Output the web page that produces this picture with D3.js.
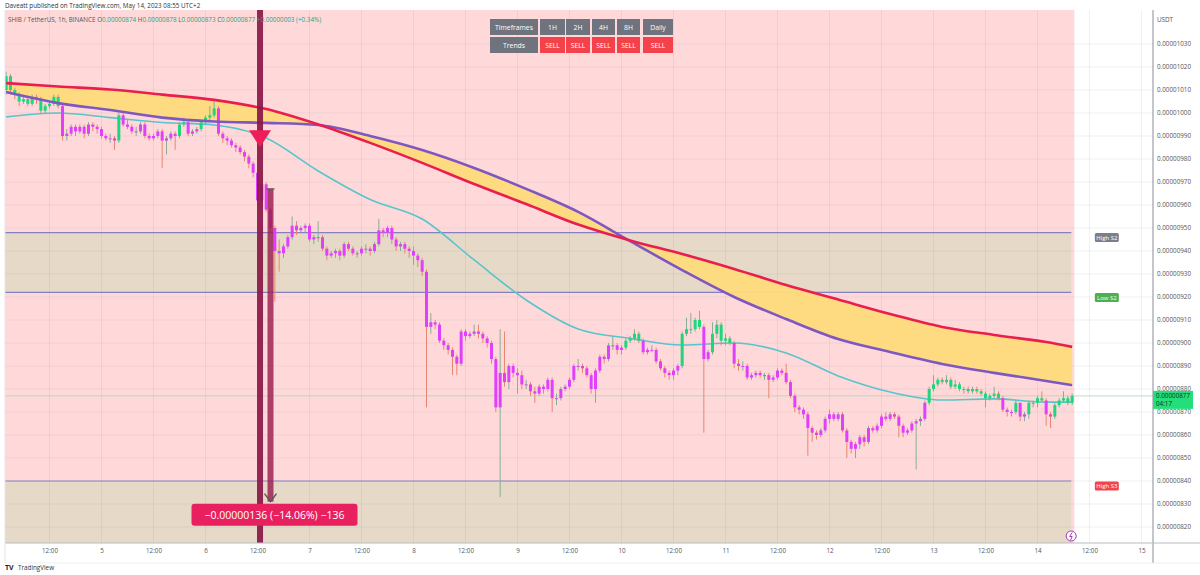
<!DOCTYPE html>
<html>
<head>
  <meta charset="UTF-8" />
  <script src="https://d3js.org/d3.v7.min.js"></script>
  <title>SHIB / TetherUS 1h</title>
  <style>
    body { margin: 0; background: #fff; }
    text { font-family: "Open Sans", "DejaVu Sans", sans-serif; }
  </style>
</head>
<body>
<div id="chart"></div>
<script>
// prices are in units of 0.00000001 USDT
var UNIT = 1e-8;
var firstBar = new Date(2023, 4, 4, 2);   // first hourly candle
var firstOpen = 1010;

var closes = [
  // May 4 (02:00 - 23:00)
  1016, 1010, 1008, 1005, 1006, 1004, 1007, 1006, 1001, 1003, 1004, 1007, 1003, 990, 991, 994, 992, 994, 991, 995, 994, 993,
  // May 5
  990, 989, 989, 988, 999, 995, 994, 992, 992, 995, 990, 989, 990, 992, 988, 989, 991, 990, 995, 996, 991, 992, 993, 996,
  // May 6
  998, 999, 1002, 991, 989, 988, 986, 985, 983, 981, 978, 974, 962, 969, 958, 950, 940, 939, 942, 946, 951, 949, 950, 951,
  // May 7
  945, 946, 946, 941, 938, 939, 940, 938, 943, 941, 939, 939, 941, 941, 940, 943, 949, 948, 950, 945, 942, 943, 941, 940,
  // May 8
  938, 936, 931, 907, 909, 908, 901, 899, 897, 894, 891, 905, 903, 904, 905, 904, 902, 900, 893, 872, 887, 883, 890, 887,
  // May 9
  886, 882, 882, 879, 878, 881, 880, 884, 876, 876, 880, 881, 884, 890, 890, 889, 886, 880, 888, 894, 893, 899, 899, 897,
  // May 10
  898, 901, 902, 904, 901, 896, 897, 897, 892, 889, 887, 886, 888, 890, 904, 906, 906, 910, 907, 893, 896, 904, 908, 901,
  // May 11
  902, 900, 891, 890, 890, 885, 886, 887, 886, 886, 884, 885, 888, 887, 883, 877, 872, 871, 869, 863, 861, 860, 862, 867,
  // May 12
  869, 867, 869, 862, 857, 854, 856, 859, 857, 863, 862, 864, 868, 867, 869, 868, 864, 861, 862, 865, 866, 867, 874, 880,
  // May 13
  882, 884, 883, 884, 881, 882, 880, 880, 879, 880, 879, 878, 876, 877, 878, 876, 871, 870, 870, 874, 868, 869, 874, 874,
  // May 14 (00:00 - 08:00)
  876, 875, 869, 868, 873, 875, 876, 874, 877
];

var highs = [
  1018, 1017, 1011, 1009, 1007, 1007, 1008, 1008, 1007, 1004, 1005, 1008, 1008, 1004, 993, 995, 995, 995, 995, 996, 996, 995,
  994, 991, 991, 990, 1000, 1000, 997, 995, 994, 996, 996, 991, 991, 993, 993, 990, 992, 992, 996, 998, 997, 993, 994, 997,
  999, 1003, 1006, 1003, 992, 990, 989, 987, 986, 984, 982, 979, 975, 972, 970, 959, 951, 945, 943, 947, 955, 953, 951, 952,
  952, 947, 953, 947, 942, 940, 941, 941, 944, 944, 942, 940, 942, 943, 942, 944, 954, 950, 951, 951, 946, 944, 944, 942,
  942, 939, 937, 932, 913, 910, 909, 902, 900, 898, 895, 906, 906, 905, 908, 908, 905, 903, 901, 894, 906, 905, 891, 891,
  889, 888, 884, 883, 881, 882, 882, 885, 885, 878, 881, 882, 885, 891, 893, 891, 890, 887, 889, 895, 895, 900, 903, 900,
  899, 902, 903, 906, 905, 902, 898, 899, 898, 893, 890, 888, 889, 891, 905, 911, 913, 911, 914, 908, 897, 909, 910, 909,
  904, 903, 901, 893, 892, 891, 887, 888, 888, 887, 887, 886, 889, 889, 891, 884, 878, 873, 872, 870, 864, 862, 863, 868,
  871, 870, 870, 870, 863, 858, 857, 860, 860, 864, 864, 865, 869, 870, 870, 870, 869, 865, 863, 866, 867, 868, 875, 881,
  886, 885, 885, 886, 885, 884, 883, 881, 881, 881, 881, 880, 879, 878, 881, 879, 877, 872, 871, 875, 874, 870, 875, 875,
  877, 879, 876, 870, 874, 876, 879, 877, 878
];

var lows = [
  1008, 1008, 1006, 1003, 1004, 1003, 1003, 1004, 1000, 1000, 1002, 1003, 1002, 988, 988, 990, 990, 991, 989, 990, 992, 991,
  989, 988, 987, 984, 987, 994, 993, 991, 990, 991, 989, 988, 988, 989, 976, 982, 988, 984, 989, 994, 990, 990, 991, 992,
  995, 997, 998, 990, 987, 986, 985, 983, 982, 979, 976, 972, 960, 961, 957, 948, 918, 931, 937, 941, 945, 947, 948, 948,
  944, 943, 944, 940, 936, 937, 937, 936, 937, 940, 938, 937, 938, 939, 938, 939, 942, 946, 946, 943, 940, 940, 939, 937,
  934, 933, 929, 872, 904, 906, 900, 897, 895, 886, 886, 890, 901, 902, 903, 902, 900, 898, 891, 870, 833, 881, 880, 885,
  878, 880, 880, 877, 874, 877, 878, 879, 870, 873, 875, 879, 880, 883, 888, 887, 885, 878, 874, 887, 891, 892, 897, 895,
  895, 897, 900, 901, 900, 895, 895, 896, 891, 888, 885, 884, 884, 886, 889, 903, 904, 905, 906, 861, 892, 895, 902, 899,
  899, 899, 889, 888, 888, 884, 884, 885, 885, 884, 876, 883, 884, 886, 882, 876, 870, 869, 867, 851, 857, 858, 859, 861,
  865, 866, 866, 861, 850, 852, 850, 854, 855, 856, 861, 861, 863, 866, 866, 867, 859, 859, 860, 861, 845, 864, 866, 873,
  879, 881, 882, 882, 880, 880, 879, 878, 878, 878, 878, 877, 872, 875, 876, 875, 870, 868, 868, 869, 866, 866, 867, 872,
  872, 874, 864, 863, 867, 872, 874, 873, 873
];

// moving averages, read every 12 bars
var lineBars   = [0, 12, 24, 36, 48, 60, 72, 84, 96, 108, 120, 132, 144, 156, 168, 180, 192, 204, 216, 228, 240, 246];
var redLine    = [1013.0, 1011.5, 1010.2, 1008.0, 1005.7, 1001.7, 995.0, 987.0, 978.3, 969.1, 960.4, 951.5, 944.6, 938.7, 932.2, 925.2, 918.9, 912.6, 907.0, 903.5, 900.4, 898.3];
var purpleLine = [1009.1, 1004.3, 1001.3, 998.0, 996.3, 995.7, 994.8, 990.0, 983.9, 976.1, 967.0, 957.0, 944.3, 931.7, 920.0, 910.4, 901.7, 896.1, 890.9, 887.0, 883.5, 881.7];
var cyanLine   = [998.3, 1000.0, 998.0, 995.9, 994.8, 989.1, 974.8, 962.4, 953.9, 936.1, 918.7, 906.1, 902.0, 899.1, 900.0, 895.7, 885.7, 878.7, 875.2, 875.7, 874.3, 874.3];

var priceTicks = [820, 830, 840, 850, 860, 870, 880, 890, 900, 910, 920, 930, 940, 950, 960, 970, 980, 990, 1000, 1010, 1020, 1030];

var zoneNames  = ["High S2", "Low S2", "High S3"];
var zoneLevels = [948, 922, 840];

var tfNames  = ["1H", "2H", "4H", "8H", "Daily"];
var tfTrends = ["SELL", "SELL", "SELL", "SELL", "SELL"];

var signalTime = new Date(2023, 4, 6, 12, 35);
var signalPrice = 989;
var measureBar = 61;
var measureFrom = 967, measureTo = 831;

// layout
var left = 5, right = 1153, plotTop = 10, bottom = 543;
var W = 1200, H = 575;

var svg = d3.select("#chart").append("svg")
  .attr("width", W).attr("height", H);

var x = d3.scaleTime()
  .domain([new Date(2023, 4, 4), new Date(2023, 4, 15)])
  .range([-2.5, 1141.5]);
var y = d3.scaleLinear().domain([820, 1030]).range([527, 44]);

function barTime(i) { return d3.timeHour.offset(firstBar, i); }
var step = x(barTime(1)) - x(barTime(0));
var lastIdx = closes.length - 1;
var barsEnd = x(barTime(lastIdx)) + step / 2;

var cyanAt = d3.scaleLinear().domain(lineBars).range(cyanLine);

var bars = closes.map(function(c, i) {
  var o = i ? closes[i - 1] : firstOpen;
  return {
    t: barTime(i), o: o, c: c,
    h: Math.max(highs[i], o, c), l: Math.min(lows[i], o, c),
    up: c > cyanAt(i) - 1.5
  };
});

svg.append("defs").append("clipPath").attr("id", "plotclip")
  .append("rect").attr("x", left).attr("y", plotTop)
  .attr("width", right - left).attr("height", bottom - plotTop);

var plot = svg.append("g").attr("clip-path", "url(#plotclip)");

// bar background colour
plot.append("rect")
  .attr("x", left).attr("y", plotTop)
  .attr("width", barsEnd - left).attr("height", bottom - plotTop)
  .attr("fill", "#ffd9d9");

// support zones
plot.append("rect")
  .attr("x", left).attr("y", y(zoneLevels[0]))
  .attr("width", barsEnd - 3 - left).attr("height", y(zoneLevels[1]) - y(zoneLevels[0]))
  .attr("fill", "#e7d9c7");
plot.append("rect")
  .attr("x", left).attr("y", y(zoneLevels[2]))
  .attr("width", barsEnd - 3 - left).attr("height", bottom - y(zoneLevels[2]))
  .attr("fill", "#e7d9c7");

// grid
var timeTicks = d3.timeHour.every(12).range(new Date(2023, 4, 4, 12), new Date(2023, 4, 15, 1));
plot.append("g").selectAll("line").data(timeTicks).enter().append("line")
  .attr("x1", function(d) { return x(d); }).attr("x2", function(d) { return x(d); })
  .attr("y1", plotTop).attr("y2", bottom)
  .attr("stroke", "rgba(120,130,170,0.12)");
plot.append("g").selectAll("line").data(priceTicks).enter().append("line")
  .attr("x1", left).attr("x2", right)
  .attr("y1", function(d) { return y(d); }).attr("y2", function(d) { return y(d); })
  .attr("stroke", "rgba(120,130,170,0.12)");

plot.append("g").selectAll("line").data(zoneLevels).enter().append("line")
  .attr("x1", left).attr("x2", barsEnd - 3)
  .attr("y1", function(d) { return y(d); }).attr("y2", function(d) { return y(d); })
  .attr("stroke", "#8580c4").attr("stroke-width", 1.2);

// last price line
plot.append("line")
  .attr("x1", left).attr("x2", right)
  .attr("y1", y(closes[lastIdx])).attr("y2", y(closes[lastIdx]))
  .attr("stroke", "#a9d6bb").attr("stroke-width", 0.8);

// cloud between the two slow averages
var maX = function(d) { return x(barTime(d)); };
plot.append("path")
  .datum(lineBars)
  .attr("d", d3.area().curve(d3.curveMonotoneX)
    .x(maX)
    .y0(function(d, i) { return y(redLine[i]); })
    .y1(function(d, i) { return y(purpleLine[i]); }))
  .attr("fill", "#fedb7c").attr("opacity", 0.95);

plot.append("path")
  .datum(lineBars)
  .attr("d", d3.line().curve(d3.curveMonotoneX).x(maX)
    .y(function(d, i) { return y(cyanLine[i]); }))
  .attr("fill", "none").attr("stroke", "#58c4cc").attr("stroke-width", 1.6);

// candles
var candle = plot.append("g").selectAll("g").data(bars).enter().append("g");
candle.append("line")
  .attr("x1", function(d) { return x(d.t); }).attr("x2", function(d) { return x(d.t); })
  .attr("y1", function(d) { return y(d.h); }).attr("y2", function(d) { return y(d.l); })
  .attr("stroke", function(d) { return d.c >= d.o ? "#86ad98" : "#e8866f"; })
  .attr("stroke-width", 1);
candle.append("rect")
  .attr("x", function(d) { return x(d.t) - 1.5; })
  .attr("width", 3)
  .attr("y", function(d) { return y(Math.max(d.o, d.c)); })
  .attr("height", function(d) { return Math.max(1, Math.abs(y(d.o) - y(d.c))); })
  .attr("fill", function(d) { return d.up ? "#1ed67c" : "#e040fb"; });

plot.append("path")
  .datum(lineBars)
  .attr("d", d3.line().curve(d3.curveMonotoneX).x(maX)
    .y(function(d, i) { return y(purpleLine[i]); }))
  .attr("fill", "none").attr("stroke", "#7e57c2").attr("stroke-width", 2.6);
plot.append("path")
  .datum(lineBars)
  .attr("d", d3.line().curve(d3.curveMonotoneX).x(maX)
    .y(function(d, i) { return y(redLine[i]); }))
  .attr("fill", "none").attr("stroke", "#e91e4f").attr("stroke-width", 2.6);

// vertical line on signal bar + sell marker
var sx = x(signalTime);
plot.append("rect")
  .attr("x", sx - 3).attr("y", plotTop).attr("width", 6).attr("height", bottom - plotTop)
  .attr("fill", "#8a1747").attr("opacity", 0.92);
plot.append("path")
  .attr("d", "M" + (sx - 11) + "," + (y(signalPrice) - 8) + "L" + (sx + 11) + "," + (y(signalPrice) - 8) +
    "L" + sx + "," + (y(signalPrice) + 9) + "Z")
  .attr("fill", "#ee1e5a");

// price range measure
var mx = x(barTime(measureBar));
plot.append("rect")
  .attr("x", mx - 3).attr("y", y(measureFrom)).attr("width", 6)
  .attr("height", y(measureTo) - y(measureFrom))
  .attr("fill", "#9a1d52").attr("opacity", 0.82);
plot.append("line")
  .attr("x1", mx - 4).attr("x2", mx + 4).attr("y1", y(measureFrom)).attr("y2", y(measureFrom))
  .attr("stroke", "#555").attr("stroke-width", 1.2);
plot.append("path")
  .attr("d", "M" + (mx - 6) + "," + (y(measureTo) - 8) + "L" + mx + "," + y(measureTo) +
    "L" + (mx + 6) + "," + (y(measureTo) - 8))
  .attr("fill", "none").attr("stroke", "#555").attr("stroke-width", 1.4);

var diff = measureTo - measureFrom;
var pct = diff / measureFrom * 100;
var mLabel = "\u2212" + (Math.abs(diff) * UNIT).toFixed(8) + " (\u2212" + Math.abs(pct).toFixed(2) + "%) \u2212" + Math.abs(diff);
var mg = svg.append("g").attr("transform", "translate(" + (mx + 4) + "," + (y(measureTo) + 13) + ")");
mg.append("rect").attr("x", -83).attr("y", -11).attr("width", 166).attr("height", 22).attr("rx", 3)
  .attr("fill", "#e8205f");
mg.append("text").attr("text-anchor", "middle").attr("y", 4)
  .attr("fill", "#fff").style("font-size", "10.5px").text(mLabel);

// zone labels in the future area
var zoneFills = ["#7b7f8a", "#4caf50", "#f2444a"];
zoneLevels.forEach(function(v, i) {
  var g = svg.append("g").attr("transform", "translate(" + x(barTime(lastIdx + 8)) + "," + (y(v) + 5) + ")");
  g.append("rect").attr("x", -12).attr("y", -4.5).attr("width", 24).attr("height", 9).attr("rx", 1.5)
    .attr("fill", zoneFills[i]);
  g.append("text").attr("text-anchor", "middle").attr("y", 2.2)
    .attr("fill", "#fff").style("font-size", "6px").text(zoneNames[i]);
});

// axes frame
svg.append("line").attr("x1", right).attr("x2", right).attr("y1", plotTop).attr("y2", 563)
  .attr("stroke", "#8a8d96");
svg.append("line").attr("x1", left).attr("x2", W).attr("y1", bottom).attr("y2", bottom)
  .attr("stroke", "#b8bbc3");
svg.append("line").attr("x1", left).attr("x2", left).attr("y1", plotTop).attr("y2", 563)
  .attr("stroke", "#e3e5ea");
svg.append("line").attr("x1", left).attr("x2", W).attr("y1", 563).attr("y2", 563)
  .attr("stroke", "#eceef2");

// price axis
svg.append("g").selectAll("text").data(priceTicks).enter().append("text")
  .attr("x", right + 4).attr("y", function(d) { return y(d) + 2; })
  .attr("fill", "#555").style("font-size", "6.3px")
  .text(function(d) { return (d * UNIT).toFixed(8); });
svg.append("text").attr("x", right + 4).attr("y", 22)
  .attr("fill", "#555").style("font-size", "6.3px").text("USDT");

// time axis
var xAxis = svg.append("g")
  .attr("transform", "translate(0," + bottom + ")")
  .call(d3.axisBottom(x).tickValues(timeTicks).tickSize(0).tickPadding(6)
    .tickFormat(function(d) { return d.getHours() === 0 ? d3.timeFormat("%-d")(d) : "12:00"; }));
xAxis.select(".domain").remove();
xAxis.selectAll("text").attr("fill", "#555")
  .style("font-size", "6.3px").style("font-family", "'Open Sans', sans-serif");

// last price tag
var ly = y(closes[lastIdx]);
svg.append("rect").attr("x", right).attr("y", ly - 5).attr("width", 40).attr("height", 18)
  .attr("fill", "#22df7a");
svg.append("text").attr("x", right + 3).attr("y", ly + 2).attr("fill", "#1b2b22")
  .style("font-size", "6.3px").text((closes[lastIdx] * UNIT).toFixed(8));
svg.append("text").attr("x", right + 3).attr("y", ly + 10).attr("fill", "#1b2b22")
  .style("font-size", "6.3px").text("04:17");

// small replay icon
var ix = x(barTime(lastIdx)) - 1;
svg.append("circle").attr("cx", ix).attr("cy", bottom - 7).attr("r", 5)
  .attr("fill", "#fff").attr("stroke", "#9c27b0").attr("stroke-width", 0.9);
svg.append("path")
  .attr("d", "M" + (ix + 1) + "," + (bottom - 10.5) + "l-2.5,4h2.5l-1.5,3.5")
  .attr("fill", "none").attr("stroke", "#9c27b0").attr("stroke-width", 0.9);

// timeframe table
var cellX = [490, 540, 566, 592, 617, 643];
var cellW = [48, 25, 24, 23, 23, 30];
var table = svg.append("g");
["Timeframes"].concat(tfNames).forEach(function(name, i) {
  table.append("rect").attr("x", cellX[i]).attr("y", 19).attr("width", cellW[i]).attr("height", 16)
    .attr("fill", "#6f737d");
  table.append("text").attr("x", cellX[i] + cellW[i] / 2).attr("y", 29.5).attr("text-anchor", "middle")
    .attr("fill", "#fff").style("font-size", "6.8px").text(name);
});
["Trends"].concat(tfTrends).forEach(function(name, i) {
  table.append("rect").attr("x", cellX[i]).attr("y", 37).attr("width", cellW[i]).attr("height", 16)
    .attr("fill", i ? "#f5414a" : "#6f737d");
  table.append("text").attr("x", cellX[i] + cellW[i] / 2).attr("y", 47.5).attr("text-anchor", "middle")
    .attr("fill", "#fff").style("font-size", "6.8px").text(name);
});

// header
svg.append("text").attr("x", 5).attr("y", 8).attr("fill", "#333").style("font-size", "6.3px")
  .text("Daveatt published on TradingView.com, May 14, 2023 08:55 UTC+2");
var last = bars[lastIdx];
var hdr = svg.append("text").attr("x", 8).attr("y", 22).style("font-size", "6.3px").attr("fill", "#555");
hdr.append("tspan").text("SHIB / TetherUS, 1h, BINANCE  ");
[["O", last.o], ["H", last.h], ["L", last.l], ["C", last.c]].forEach(function(p) {
  hdr.append("tspan").attr("fill", "#555").text(" " + p[0]);
  hdr.append("tspan").attr("fill", "#22a57a").text((p[1] * UNIT).toFixed(8) + " ");
});
hdr.append("tspan").attr("fill", "#22a57a")
  .text(" +" + ((last.c - last.o) * UNIT).toFixed(8) + " (+" + ((last.c - last.o) / last.o * 100).toFixed(2) + "%)");

// footer
svg.append("text").attr("x", 5).attr("y", 570).attr("fill", "#222")
  .style("font-size", "7px").style("font-weight", "bold").text("TV");
svg.append("text").attr("x", 18).attr("y", 570).attr("fill", "#333")
  .style("font-size", "6.3px").text("TradingView");
</script>
</body>
</html>
